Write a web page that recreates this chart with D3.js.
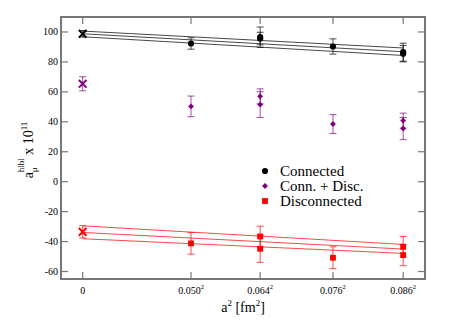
<!DOCTYPE html>
<meta charset="utf-8">
<style>
body { margin: 0; background: #fff; }
svg text { font-family: "Liberation Serif", "Times New Roman", Times, "DejaVu Serif", serif; }
</style>
<svg width="468" height="331"></svg>
<script src="https://cdn.jsdelivr.net/npm/d3@7/dist/d3.min.js"></script>
<script>

// lattice spacings (fm) and the y ticks
var spacings = [0.050, 0.064, 0.076, 0.086];
var xTickLabels = ["0", "0.050", "0.064", "0.076", "0.086"];
var yTicks = [-60, -40, -20, 0, 20, 40, 60, 80, 100];

// points: [a (fm), value, error]
var connected = [[0.050, 92.3, 3.8], [0.064, 96.5, 6.8], [0.064, 95.6, 4.2],
                 [0.076, 90.3, 5.1], [0.086, 86.5, 6.0], [0.086, 85.5, 5.5]];
var connDisc = [[0.050, 50.3, 6.9], [0.064, 57.0, 5.0], [0.064, 51.5, 8.6],
                [0.076, 38.5, 6.3], [0.086, 40.8, 5.0], [0.086, 35.5, 7.4]];
var disconnected = [[0.050, -41.2, 7.2], [0.064, -36.6, 6.9], [0.064, -44.8, 9.1],
                    [0.076, -50.8, 7.3], [0.086, -43.5, 6.9], [0.086, -49.0, 7.1]];

// continuum extrapolations at a = 0: [value, error]
var contConnected = [98.8, 2.2];
var contConnDisc = [65.4, 4.7];
var contDisconnected = [-33.5, 4.1];

// fit bands: [value at a=0, value at a=0.086]
var fitConnected = [[100.6, 89.3], [98.8, 86.8], [96.8, 84.3]];
var fitDisconnected = [[-29.5, -41.9], [-33.9, -45.0], [-38.1, -47.9]];

var svg = d3.select("svg");
var pLeft = 61, pRight = 425, pTop = 17, pBottom = 279;

var x = d3.scaleLinear().domain([-0.0005, 0.0079]).range([pLeft, pRight]);
var y = d3.scaleLinear().domain([-65, 110]).range([pBottom, pTop]);

var black = "#000", purple = "#800080", red = "#ff0000", frame = "#777";

// fit lines
function drawFits(fits, col) {
  svg.selectAll(null).data(fits).enter().append("line")
      .attr("x1", x(0)).attr("x2", x(0.086 * 0.086))
      .attr("y1", function(d) { return y(d[0]); })
      .attr("y2", function(d) { return y(d[1]); })
      .attr("stroke", col).attr("stroke-width", 0.9).attr("stroke-opacity", 0.8);
}
drawFits(fitConnected, black);
drawFits(fitDisconnected, red);

// error bars
function drawErrors(pts, col) {
  var g = svg.append("g").attr("stroke", col).attr("stroke-width", 1).attr("stroke-opacity", 0.7);
  pts.forEach(function(d) {
    var cx = x(d[0]), y0 = y(d[1] - d[2]), y1 = y(d[1] + d[2]);
    g.append("line").attr("x1", cx).attr("x2", cx).attr("y1", y0).attr("y2", y1);
    g.append("line").attr("x1", cx - 3.5).attr("x2", cx + 3.5).attr("y1", y0).attr("y2", y0);
    g.append("line").attr("x1", cx - 3.5).attr("x2", cx + 3.5).attr("y1", y1).attr("y2", y1);
  });
}
function toA2(pts) { return pts.map(function(d) { return [d[0] * d[0], d[1], d[2]]; }); }

drawErrors(toA2(connected), black);
drawErrors(toA2(connDisc), purple);
drawErrors(toA2(disconnected), red);
drawErrors([[0, contConnected[0], contConnected[1]]], black);
drawErrors([[0, contConnDisc[0], contConnDisc[1]]], purple);
drawErrors([[0, contDisconnected[0], contDisconnected[1]]], red);

// markers
var symCircle = d3.symbol().type(d3.symbolCircle).size(30),
    symDiamond = d3.symbol().type(d3.symbolDiamond2 || d3.symbolDiamond).size(22),
    symSquare = d3.symbol().type(d3.symbolSquare).size(34),
    symX = d3.symbol().type(d3.symbolX).size(40);

function drawMarks(pts, sym, col) {
  svg.selectAll(null).data(toA2(pts)).enter().append("path")
      .attr("d", sym)
      .attr("transform", function(d) { return "translate(" + x(d[0]) + "," + y(d[1]) + ")"; })
      .attr("fill", col);
}
drawMarks(connected, symCircle, black);
drawMarks(connDisc, symDiamond, purple);
drawMarks(disconnected, symSquare, red);

[[contConnected, black], [contConnDisc, purple], [contDisconnected, red]].forEach(function(c) {
  svg.append("path").attr("d", symX)
      .attr("transform", "translate(" + x(0) + "," + y(c[0][0]) + ")")
      .attr("fill", "none").attr("stroke", c[1]).attr("stroke-width", 2);
});

// frame and ticks
svg.append("rect")
    .attr("x", pLeft).attr("y", pTop).attr("width", pRight - pLeft).attr("height", pBottom - pTop)
    .attr("fill", "none").attr("stroke", frame).attr("stroke-width", 2);

var xTickVals = [0].concat(spacings.map(function(a) { return a * a; }));
var tk = svg.append("g").attr("stroke", frame).attr("stroke-width", 1.2);
xTickVals.forEach(function(v) {
  tk.append("line").attr("x1", x(v)).attr("x2", x(v)).attr("y1", pBottom).attr("y2", pBottom - 7);
  tk.append("line").attr("x1", x(v)).attr("x2", x(v)).attr("y1", pTop).attr("y2", pTop + 7);
});
yTicks.forEach(function(v) {
  tk.append("line").attr("x1", pLeft).attr("x2", pLeft + 7).attr("y1", y(v)).attr("y2", y(v));
  tk.append("line").attr("x1", pRight).attr("x2", pRight - 7).attr("y1", y(v)).attr("y2", y(v));
});

svg.selectAll(null).data(yTicks).enter().append("text")
    .attr("x", 58).attr("y", function(d) { return y(d) + 3.5; })
    .attr("text-anchor", "end").attr("font-size", 10)
    .text(function(d) { return d; });

xTickVals.forEach(function(v, i) {
  var t = svg.append("text").attr("x", x(v)).attr("y", 294)
      .attr("text-anchor", "middle").attr("font-size", 10);
  t.append("tspan").text(xTickLabels[i]);
  if (i > 0) t.append("tspan").attr("dy", -5).attr("font-size", 6.5).text("2");
});

// axis titles
var xl = svg.append("text").attr("x", 243).attr("y", 312)
    .attr("text-anchor", "middle").attr("font-size", 14);
xl.append("tspan").text("a");
xl.append("tspan").attr("dy", -6).attr("font-size", 9).text("2");
xl.append("tspan").attr("dy", 6).text(" [fm");
xl.append("tspan").attr("dy", -6).attr("font-size", 9).text("2");
xl.append("tspan").attr("dy", 6).text("]");

var yl = svg.append("text").attr("transform", "translate(33,150) rotate(-90)")
    .attr("text-anchor", "middle").attr("font-size", 14);
yl.append("tspan").text("a");
yl.append("tspan").attr("dy", 4).attr("font-size", 9).text("\u03bc");
yl.append("tspan").attr("dx", -5).attr("dy", -13).attr("font-size", 9).text("hlbl");
yl.append("tspan").attr("dy", 9).text(" x 10");
yl.append("tspan").attr("dy", -6).attr("font-size", 9).text("11");

// legend
var legend = [["Connected", symCircle, black], ["Conn. + Disc.", symDiamond, purple], ["Disconnected", symSquare, red]];
legend.forEach(function(d, i) {
  var ly = 171 + i * 15;
  svg.append("path").attr("d", d[1]).attr("fill", d[2])
      .attr("transform", "translate(265," + ly + ")");
  svg.append("text").attr("x", 280).attr("y", ly + 5).attr("font-size", 15).text(d[0]);
});

</script>
